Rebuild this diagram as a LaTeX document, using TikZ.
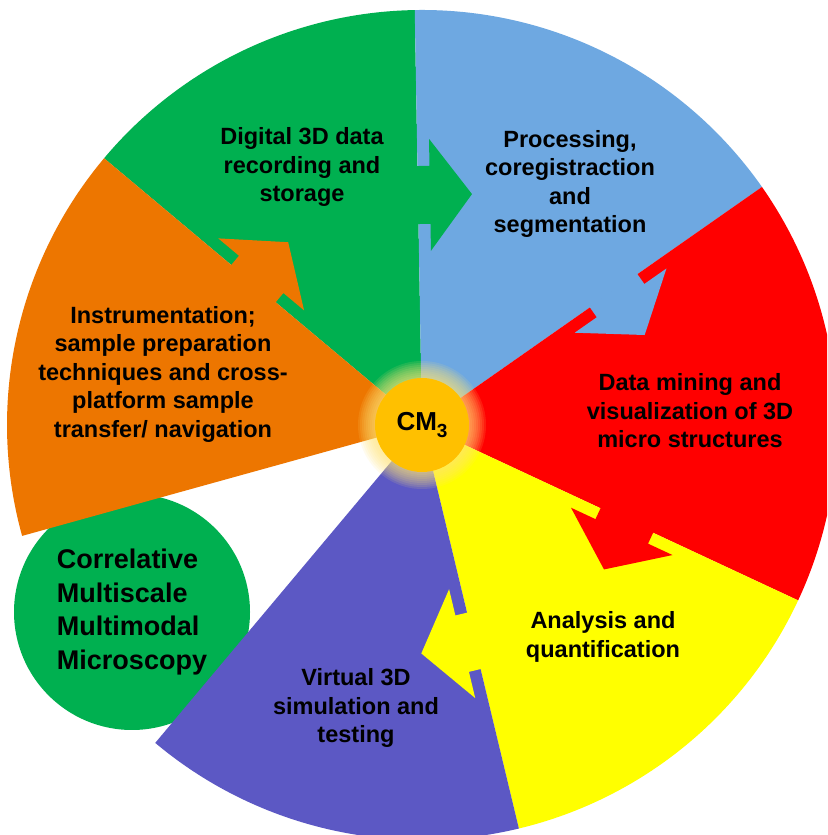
\documentclass[tikz,border=0pt]{standalone}
\usepackage{fontspec}
\setmainfont{Liberation Sans}
\usepackage{xcolor}
\usepackage{tikz}
\usetikzlibrary{positioning}

\definecolor{cmgreen}{RGB}{0,176,80}
\definecolor{cmblue}{RGB}{110,168,225}
\definecolor{cmred}{RGB}{255,0,0}
\definecolor{cmyellow}{RGB}{255,255,0}
\definecolor{cmpurple}{RGB}{92,88,196}
\definecolor{cmorange}{RGB}{237,118,0}
\definecolor{cmgold}{RGB}{255,192,0}
\definecolor{cmglow}{RGB}{255,230,120}

\begin{document}
\begin{tikzpicture}[x=1pt, y=1pt,
  sect/.style={align=center, inner sep=0pt, font=\fontsize{23.5}{28.5}\selectfont\bfseries},
  hub/.style={circle, fill=cmgold, minimum size=94pt, inner sep=0pt, font=\fontsize{26}{26}\selectfont\bfseries}]
\path[fill=white, use as bounding box] (0,0) rectangle (827,835);
\clip (0,0) rectangle (827,835);
\coordinate (c) at (422,410);

\node (cmm) [circle, fill=cmgreen, minimum size=236pt, inner sep=0pt, align=left, font=\fontsize{27}{33.5}\selectfont\bfseries] at (132,223) {Correlative\\Multiscale\\Multimodal\\Microscopy};

% the wheel
\foreach \a/\b/\col in {91/140/cmgreen, 35/91/cmblue, -25/35/cmred, -76.5/-25/cmyellow, -130/-76.5/cmpurple, 140/195.5/cmorange}
  \fill[\col] (c) -- ++(\a:415pt) arc[start angle=\a, end angle=\b, radius=415pt] -- cycle;

% arrows into the next step
\foreach \t/\d/\col in {91/230/cmgreen, 35/234/cmblue, -25/226/cmred, -76.5/222/cmyellow, 140/220/cmorange}
  \fill[\col, shift={(c)}, rotate=\t] (\d-29,1) -- (\d-29,-12) -- (\d-56,-12) -- (\d,-54) -- (\d+56,-12) -- (\d+29,-12) -- (\d+29,1) -- cycle;

\foreach \r in {48,50,...,64}
  \fill[cmglow, opacity=0.12] (c) circle[radius=\r pt];
\node (hubnode) [hub] at (c) {CM\raisebox{-7pt}{\fontsize{19}{19}\selectfont 3}};

\node (rec) [sect] at (302,668) {Digital 3D data\\recording and\\storage};
\node (proc) [sect] at (570,651) {Processing,\\coregistraction\\and\\segmentation};
\node (mine) [sect] at (690,424) {Data mining and\\visualization of 3D\\micro structures};
\node (anal) [sect] at (603,198) {Analysis and\\quantification};
\node (sim) [sect] at (356,127) {Virtual 3D\\simulation and\\testing};
\node (instr) [sect] at (163,461) {Instrumentation;\\sample preparation\\techniques and cross-\\platform sample\\transfer/ navigation};
\end{tikzpicture}
\end{document}
